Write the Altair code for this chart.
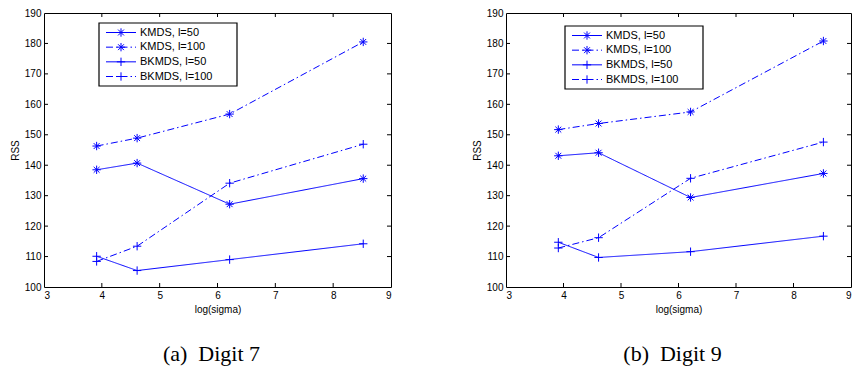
import altair as alt
import pandas as pd

# ---- data ----
series = ["KMDS, l=50", "KMDS, l=100", "BKMDS, l=50", "BKMDS, l=100"]
log_sigma = [3.91, 4.61, 6.21, 8.52]

digit7_kmds50 = [138.5, 140.7, 127.2, 135.6]
digit7_kmds100 = [146.3, 148.9, 156.8, 180.5]
digit7_bkmds50 = [110.1, 105.4, 109.0, 114.2]
digit7_bkmds100 = [108.4, 113.4, 134.1, 146.9]

digit9_kmds50 = [143.1, 144.1, 129.4, 137.3]
digit9_kmds100 = [151.7, 153.7, 157.5, 180.8]
digit9_bkmds50 = [114.7, 109.7, 111.6, 116.7]
digit9_bkmds100 = [112.8, 116.2, 135.7, 147.6]

x_ticks = [3, 4, 5, 6, 7, 8, 9]
y_ticks = [100, 110, 120, 130, 140, 150, 160, 170, 180, 190]
captions = ["(a)\u00a0 Digit 7", "(b)\u00a0 Digit 9"]

# ---- styling ----
BLUE = "#0000ff"
H = 274
ASTER = "M-1,0L1,0M0,-1L0,1M-0.7,-0.7L0.7,0.7M-0.7,0.7L0.7,-0.7"
PLUS = "M-1,0L1,0M0,-1L0,1"
SOLID = [1, 0]
DASHDOT = [7, 3, 1.5, 3]

shape_scale = alt.Scale(domain=series, range=[ASTER, ASTER, PLUS, PLUS])
dash_scale = alt.Scale(domain=series, range=[SOLID, DASHDOT, SOLID, DASHDOT])
x_scale = alt.Scale(domain=[3, 9], nice=False, zero=False)
y_scale = alt.Scale(domain=[100, 190], nice=False, zero=False)


def panel(values, caption, lx, ly, W):
    rows = []
    for name, vals in zip(series, values):
        for xv, yv in zip(log_sigma, vals):
            rows.append({"series": name, "x": xv, "y": yv})
    df = pd.DataFrame(rows)

    lines = alt.Chart(df).mark_line(color=BLUE, strokeWidth=1).encode(
        x=alt.X("x:Q", scale=x_scale, title="log(sigma)",
                axis=alt.Axis(values=x_ticks, format="d")),
        y=alt.Y("y:Q", scale=y_scale, title="RSS",
                axis=alt.Axis(values=y_ticks, format="d")),
        strokeDash=alt.StrokeDash("series:N", scale=dash_scale, legend=None),
        detail="series:N",
        order="x:Q",
    )
    points = alt.Chart(df).mark_point(filled=False, color=BLUE, strokeWidth=1,
                                      size=70, opacity=1).encode(
        x=alt.X("x:Q", scale=x_scale),
        y=alt.Y("y:Q", scale=y_scale, axis=None),
        shape=alt.Shape("series:N", scale=shape_scale, legend=None),
    )

    xt = pd.DataFrame({"t": x_ticks[1:-1]})
    yt = pd.DataFrame({"t": y_ticks[1:-1]})
    tick_kw = dict(color="black", strokeWidth=1)
    xb = alt.Chart(xt).mark_rule(**tick_kw).encode(
        x=alt.X("t:Q", scale=x_scale), y=alt.value(H), y2=alt.value(H - 4))
    xtp = alt.Chart(xt).mark_rule(**tick_kw).encode(
        x=alt.X("t:Q", scale=x_scale), y=alt.value(0), y2=alt.value(4))
    yl = alt.Chart(yt).mark_rule(**tick_kw).encode(
        y=alt.Y("t:Q", scale=y_scale, axis=None), x=alt.value(0), x2=alt.value(4))
    yr = alt.Chart(yt).mark_rule(**tick_kw).encode(
        y=alt.Y("t:Q", scale=y_scale, axis=None), x=alt.value(W), x2=alt.value(W - 4))

    # legend
    leg = pd.DataFrame({"series": series, "row": list(range(len(series)))})
    ly_scale = alt.Scale(type="point", domain=[0, 1, 2, 3],
                         range=[ly + 9.5, ly + 53.5], padding=0)
    box = alt.Chart(pd.DataFrame({"a": [0]})).mark_rect(
        fill="white", stroke="black", strokeWidth=1.2).encode(
        x=alt.value(lx), x2=alt.value(lx + 138),
        y=alt.value(ly), y2=alt.value(ly + 63))
    lline = alt.Chart(leg).mark_rule(color=BLUE, strokeWidth=1).encode(
        x=alt.value(lx + 7), x2=alt.value(lx + 37),
        y=alt.Y("row:O", scale=ly_scale, axis=None),
        strokeDash=alt.StrokeDash("series:N", scale=dash_scale, legend=None),
    )
    lpt = alt.Chart(leg).mark_point(filled=False, color=BLUE, strokeWidth=1,
                                    size=70, opacity=1).encode(
        x=alt.value(lx + 22),
        y=alt.Y("row:O", scale=ly_scale, axis=None),
        shape=alt.Shape("series:N", scale=shape_scale, legend=None),
    )
    ltxt = alt.Chart(leg).mark_text(align="left", baseline="middle",
                                    font="Liberation Sans", fontSize=11,
                                    color="black").encode(
        x=alt.value(lx + 41),
        y=alt.Y("row:O", scale=ly_scale, axis=None),
        text="series:N",
    )

    return alt.layer(lines, points, xb, xtp, yl, yr, box, lline, lpt, ltxt).resolve_scale(
        y="independent"
    ).properties(
        width=W, height=H,
        title=alt.TitleParams(caption, orient="bottom", font="Liberation Serif",
                              fontSize=22, fontWeight="normal", color="black",
                              anchor="middle", frame="group", dx=-6, offset=30),
    )


p1 = panel([digit7_kmds50, digit7_kmds100, digit7_bkmds50, digit7_bkmds100],
           captions[0], 55, 10, 347)
p2 = panel([digit9_kmds50, digit9_kmds100, digit9_bkmds50, digit9_bkmds100],
           captions[1], 59, 13, 345)

chart = alt.hconcat(p1, p2, spacing=79).properties(
    padding={"left": 9, "top": 7, "right": 0, "bottom": 0},
    background="white",
).configure_view(stroke="black", strokeWidth=1).configure_axis(
    labelFont="Liberation Sans", labelFontSize=10, labelColor="black",
    titleFont="Liberation Sans", titleFontSize=10, titleFontWeight="normal",
    titleColor="black", domain=False, ticks=False, grid=False,
    labelPadding=3, titlePadding=4,
)

chart.save("out.html", embed_options={"renderer": "svg", "actions": False})
